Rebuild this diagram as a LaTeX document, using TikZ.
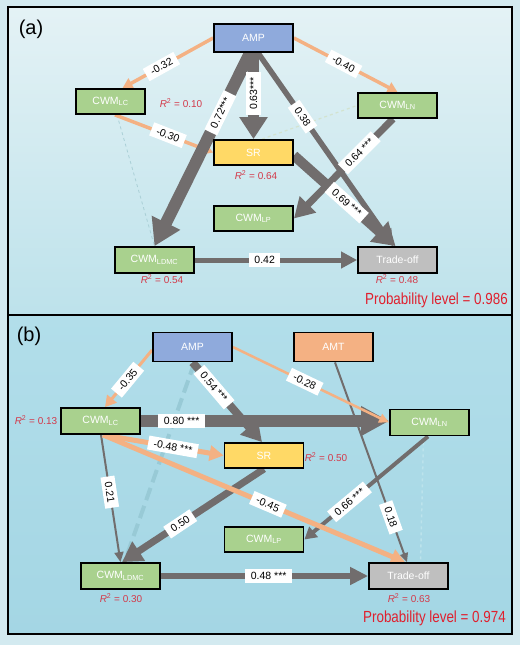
\documentclass[tikz,border=0pt]{standalone}
\usepackage{fontspec}
\usepackage{graphicx}
\setmainfont{Liberation Sans}
\usetikzlibrary{arrows.meta}
\definecolor{outerbg}{HTML}{D3EAF0}
\definecolor{paA}{HTML}{E4F2F5}
\definecolor{paB}{HTML}{BDE2EB}
\definecolor{pbA}{HTML}{B2DEEA}
\definecolor{pbB}{HTML}{A4D6E4}
\definecolor{ora}{HTML}{F4B183}
\definecolor{gry}{HTML}{716D6D}
\definecolor{cwmgreen}{HTML}{A9D18E}
\definecolor{ampblue}{HTML}{8FAADC}
\definecolor{sryellow}{HTML}{FFD966}
\definecolor{togray}{HTML}{BFBFBF}
\definecolor{amtorange}{HTML}{F4B183}
\definecolor{rsqred}{HTML}{D33A4A}
\definecolor{probred}{HTML}{E0202E}
\definecolor{faintblue}{HTML}{A9CFD6}
\definecolor{faintgreen}{HTML}{D3E3CF}
\definecolor{dashblue}{HTML}{98CAD6}
\definecolor{faintb}{HTML}{BCE3EC}
\pgfdeclarelayer{bg}
\pgfdeclarelayer{edges}
\pgfdeclarelayer{labels}
\pgfsetlayers{bg,edges,labels,main}
\begin{document}
\begin{tikzpicture}[x=1pt,y=-1pt,
  box/.style={draw=black, line width=1.8pt, minimum width=79pt, minimum height=25pt,
    inner sep=0pt, text=white, font=\fontsize{10.5pt}{12pt}\selectfont},
  lab/.style={fill=white, inner xsep=5.5pt, inner ysep=3.3pt, text=black,
    font=\fontsize{10.5pt}{12pt}\selectfont},
  rsq/.style={text=rsqred, inner sep=0pt, font=\fontsize{10pt}{11pt}\selectfont},
  prob/.style={text=probred, inner sep=0pt, anchor=east, font=\fontsize{13.4pt}{15pt}\selectfont},
  panel/.style={inner sep=0pt, font=\fontsize{20pt}{24pt}\selectfont},
  oe/.style={draw=ora, line width=#1},
  ge/.style={draw=gry, line width=#1},
]
\useasboundingbox (0,0) rectangle (520,645);
\begin{pgfonlayer}{bg}
\fill[outerbg] (0,0) rectangle (520,645);
\shade[top color=paA, bottom color=paB] (8,7) rectangle (512,315);
\shade[top color=pbA, bottom color=pbB] (8,315) rectangle (512,634);
\draw[line width=2pt] (8,7) rectangle (512,634);
\draw[line width=2pt] (8,315) -- (512,315);
\end{pgfonlayer}

% ---------- panel (a) nodes ----------
\node[panel] (pa) at (31,29) {(a)};
\node[box, fill=ampblue, minimum height=28pt] (AMPa) at (253.5,38) {AMP};
\node[box, fill=cwmgreen, minimum width=69pt] (LCa) at (110.5,101.5) {CWM\textsubscript{LC}};
\node[box, fill=cwmgreen] (LNa) at (397.5,105.5) {CWM\textsubscript{LN}};
\node[box, fill=sryellow] (SRa) at (253.5,152.5) {SR};
\node[box, fill=cwmgreen] (LPa) at (253.5,218.5) {CWM\textsubscript{LP}};
\node[box, fill=cwmgreen, minimum height=26pt] (LDMCa) at (154.5,260) {CWM\textsubscript{LDMC}};
\node[box, fill=togray, minimum height=26pt] (TOa) at (397.5,260) {Trade-off};
\node[rsq] (ra1) at (181,103) {{\itshape R}\textsuperscript{2} = 0.10};
\node[rsq] (ra2) at (256,175) {{\itshape R}\textsuperscript{2} = 0.64};
\node[rsq] (ra3) at (162,279) {{\itshape R}\textsuperscript{2} = 0.54};
\node[rsq] (ra4) at (397,279) {{\itshape R}\textsuperscript{2} = 0.48};
\node[prob] (proba) at (508,300) {\scalebox{1}[1.2]{Probability level = 0.986}};

% ---------- panel (b) nodes ----------
\node[panel] (pb) at (29,336) {(b)};
\node[box, fill=ampblue, minimum height=29pt] (AMPb) at (192.5,347) {AMP};
\node[box, fill=amtorange, minimum height=29pt] (AMTb) at (333.5,347) {AMT};
\node[box, fill=cwmgreen, minimum height=26pt] (LCb) at (100.5,421) {CWM\textsubscript{LC}};
\node[box, fill=cwmgreen, minimum height=26pt] (LNb) at (429.5,422.5) {CWM\textsubscript{LN}};
\node[box, fill=sryellow] (SRb) at (264,455.5) {SR};
\node[box, fill=cwmgreen] (LPb) at (264,539.5) {CWM\textsubscript{LP}};
\node[box, fill=cwmgreen, minimum height=26pt] (LDMCb) at (120.5,576) {CWM\textsubscript{LDMC}};
\node[box, fill=togray, minimum height=26pt] (TOb) at (408.5,576) {Trade-off};
\node[rsq] (rb1) at (36,420) {{\itshape R}\textsuperscript{2} = 0.13};
\node[rsq] (rb2) at (326,457) {{\itshape R}\textsuperscript{2} = 0.50};
\node[rsq] (rb3) at (121,598) {{\itshape R}\textsuperscript{2} = 0.30};
\node[rsq] (rb4) at (409,598) {{\itshape R}\textsuperscript{2} = 0.63};
\node[prob] (probb) at (506,618) {\scalebox{1}[1.2]{Probability level = 0.974}};

% ---------- edges ----------
\begin{pgfonlayer}{edges}
% panel (a)
\draw[faintblue, line width=0.8pt, dashed] ([xshift=6.5pt]LCa.south) -- (LDMCa.north);
\draw[faintgreen, line width=1.2pt, dashed] ([xshift=8.5pt]SRa.north) -- (LNa.west);
\draw[oe=3.5pt, -{Triangle[length=10pt,width=11pt]}] (AMPa.west) -- ([xshift=12pt]LCa.north);
\draw[oe=3.5pt, -{Triangle[length=10pt,width=11pt]}] (AMPa.east) -- (LNa.north);
\draw[oe=3.5pt, -{Triangle[length=8pt,width=9pt]}] ([xshift=4.5pt]LCa.south) -- (SRa.west);
\draw[ge=5.5pt, -{Triangle[length=16pt,width=17pt]}] ([xshift=4.5pt]AMPa.south) -- ([xshift=-4.5pt]TOa.north);
\draw[ge=10pt, -{Triangle[length=22pt,width=26pt]}] ([yshift=-3pt]SRa.east) -- ([xshift=-2pt]TOa.north);
\draw[ge=7pt, -{Triangle[length=20pt,width=22pt]}] ([xshift=-4.5pt]LNa.south) -- (LPa.east);
\draw[ge=12pt, -{Triangle[length=26pt,width=30pt]}] ([xshift=-3.5pt]AMPa.south) -- (LDMCa.north);
\draw[ge=10.5pt, -{Triangle[length=22pt,width=27pt]}] (AMPa.south) -- (SRa.north);
\draw[ge=5pt, -{Triangle[length=16pt,width=16pt]}] (LDMCa.east) -- (TOa.west);
% panel (b)
\draw[faintb, line width=1.5pt, dashed] ([xshift=-6pt]LNb.south) -- ([xshift=12pt]TOb.north);
\draw[dashblue, line width=4pt, dash pattern=on 13pt off 6pt] ([xshift=2pt]AMPb.south) -- ([xshift=4pt]LDMCb.north);
\draw[ge=2pt, -{Triangle[length=9pt,width=8pt]}] ([xshift=1.5pt]AMTb.south) -- ([xshift=-1.5pt]TOb.north);
\draw[ge=2pt, -{Triangle[length=10pt,width=9pt]}] ([xshift=0.5pt]LCb.south) -- (LDMCb.north);
\draw[ge=7pt, -{Triangle[length=20pt,width=22pt]}] (SRb.south) -- ([xshift=1.5pt]LDMCb.north);
\draw[ge=4pt, -{Triangle[length=12pt,width=13pt]}] ([xshift=-1.5pt]LNb.south) -- (LPb.east);
\draw[oe=5pt, -{Triangle[length=14pt,width=15pt]}] ([xshift=2.5pt]LCb.south) -- ([xshift=-3.5pt]TOb.north);
\draw[oe=5pt, -{Triangle[length=14pt,width=15pt]}] ([xshift=2.5pt]LCb.south) -- (SRb.west);
\draw[ge=8pt, -{Triangle[length=20pt,width=22pt]}] (AMPb.south) -- ([xshift=-2pt]SRb.north);
\draw[ge=12pt, -{Triangle[length=28pt,width=28pt]}] (LCb.east) -- ([yshift=1.5pt]LNb.west);
\draw[oe=3pt, -{Triangle[length=11pt,width=12pt]}] ([yshift=-3pt]AMPb.west) -- ([xshift=4.5pt]LCb.north);
\draw[oe=2.5pt, -{Triangle[length=10pt,width=9pt]}] (AMPb.east) -- (LNb.west);
\draw[ge=6pt, -{Triangle[length=18pt,width=17pt]}] (LDMCb.east) -- (TOb.west);
\end{pgfonlayer}

% ---------- edge labels ----------
\begin{pgfonlayer}{labels}
% panel (a)
\path (AMPa.west) -- ([xshift=12pt]LCa.north) node[lab, pos=0.57, rotate=29.1] (la1) {-0.32};
\path (AMPa.east) -- (LNa.north) node[lab, pos=0.48, rotate=-27.8] (la2) {-0.40};
\path ([xshift=4.5pt]LCa.south) -- (SRa.west) node[lab, pos=0.54, rotate=-21.3] (la3) {-0.30};
\path ([xshift=-3.5pt]AMPa.south) -- (LDMCa.north) node[lab, pos=0.31, rotate=63.9] (la4) {0.72***};
\path (AMPa.south) -- (SRa.north) node[lab, pos=0.47, rotate=90] (la5) {0.63***};
\path ([xshift=4.5pt]AMPa.south) -- ([xshift=-4.5pt]TOa.north) node[lab, pos=0.33, rotate=-55.3] (la6) {0.38};
\path ([xshift=-4.5pt]LNa.south) -- (LPa.east) node[lab, pos=0.34, rotate=45.1] (la7) {0.64 ***};
\path ([yshift=-3pt]SRa.east) -- ([xshift=-2pt]TOa.north) node[lab, pos=0.52, rotate=-41.8] (la8) {0.69 ***};
\path (LDMCa.east) -- (TOa.west) node[lab, pos=0.43] (la9) {0.42};
% panel (b)
\path ([yshift=-3pt]AMPb.west) -- ([xshift=4.5pt]LCb.north) node[lab, pos=0.52, rotate=50.4] (lb1) {-0.35};
\path (AMPb.east) -- (LNb.west) node[lab, pos=0.46, rotate=-25.5] (lb2) {-0.28};
\path ([xshift=1.5pt]AMTb.south) -- ([xshift=-1.5pt]TOb.north) node[lab, pos=0.776, rotate=-70.3] (lb3) {0.18};
\path (AMPb.south) -- ([xshift=-2pt]SRb.north) node[lab, pos=0.31, rotate=-49.5] (lb4) {0.54 ***};
\path (LCb.east) -- ([yshift=1.5pt]LNb.west) node[lab, pos=0.164] (lb5) {0.80 ***};
\path ([xshift=2.5pt]LCb.south) -- (SRb.west) node[lab, pos=0.58, rotate=-10] (lb6) {-0.48 ***};
\path ([xshift=2.5pt]LCb.south) -- ([xshift=-3.5pt]TOb.north) node[lab, pos=0.546, rotate=-23.1] (lb7) {-0.45};
\path ([xshift=0.5pt]LCb.south) -- (LDMCb.north) node[lab, pos=0.45, rotate=-81.4] (lb8) {0.21};
\path (SRb.south) -- ([xshift=1.5pt]LDMCb.north) node[lab, pos=0.59, rotate=33.8] (lb9) {0.50};
\path ([xshift=-1.5pt]LNb.south) -- (LPb.east) node[lab, pos=0.635, rotate=39.9] (lb10) {0.66 ***};
\path (LDMCb.east) -- (TOb.west) node[lab, pos=0.52] (lb11) {0.48 ***};
\end{pgfonlayer}
\end{tikzpicture}
\end{document}
